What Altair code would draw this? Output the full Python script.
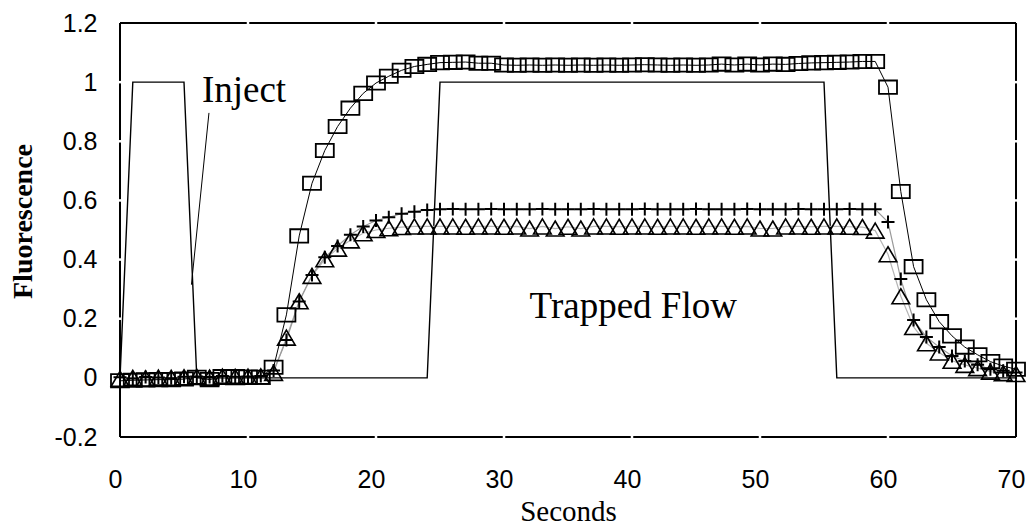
import altair as alt
import pandas as pd

# ---------------- data ----------------
seconds = list(range(0, 71))

squares = [
    -0.010, -0.008, -0.007, -0.006, -0.006, -0.004, 0.002, -0.006, 0.004, 0.004, 0.003, 0.002,
    0.036, 0.213, 0.480, 0.658, 0.769, 0.850, 0.912, 0.962, 0.997, 1.020, 1.040, 1.053, 1.060,
    1.066, 1.067, 1.068, 1.064, 1.064, 1.058, 1.057, 1.058, 1.057, 1.058, 1.057, 1.058, 1.057,
    1.058, 1.057, 1.058, 1.059, 1.058, 1.057, 1.058, 1.057,
    1.058, 1.061, 1.058, 1.061, 1.058, 1.061, 1.060, 1.063, 1.065, 1.066, 1.067, 1.068, 1.070,
    1.070,
    0.983, 0.630, 0.376, 0.264, 0.190, 0.142, 0.104, 0.078, 0.055, 0.040, 0.029,
]

plus = [
    0.002, -0.002, 0.003, 0.001, -0.001, 0.004, 0.005, 0.003, 0.006, 0.004, 0.005, 0.006,
    0.025, 0.128, 0.258, 0.348, 0.408, 0.446, 0.484, 0.512, 0.532, 0.543, 0.555, 0.562, 0.568,
    0.570, 0.571, 0.570, 0.570, 0.571, 0.570, 0.570, 0.570, 0.571, 0.570, 0.570, 0.570,
    0.571, 0.570, 0.570, 0.570, 0.571, 0.570, 0.570, 0.570, 0.571, 0.570, 0.570, 0.570,
    0.571, 0.570, 0.570, 0.570, 0.571, 0.570, 0.570, 0.570, 0.571, 0.570, 0.570,
    0.527, 0.334, 0.196, 0.138, 0.104, 0.074, 0.057, 0.044, 0.029, 0.024, 0.018,
]

triangles = [
    -0.003, 0.000, -0.002, 0.001, 0.000, 0.002, 0.003, 0.001, 0.004, 0.003, 0.004, 0.005,
    0.017, 0.136, 0.259, 0.345, 0.401, 0.437, 0.465, 0.489, 0.500, 0.506, 0.510, 0.512, 0.512,
    0.512, 0.512, 0.511, 0.512, 0.512, 0.511, 0.512, 0.505, 0.512, 0.505, 0.511, 0.505,
    0.512, 0.512, 0.511, 0.512, 0.512, 0.511, 0.512, 0.512, 0.511, 0.512, 0.512, 0.511,
    0.512, 0.505, 0.505, 0.512, 0.512, 0.511, 0.512, 0.512, 0.511, 0.510,
    0.498,
    0.418, 0.276, 0.172, 0.117, 0.086, 0.058, 0.044, 0.033, 0.021, 0.016, 0.013,
]

# valve trace: inject pulse then trapped-flow pulse
trace = [0] + [1] * 5 + [0] * 19 + [1] * 31 + [0] * 15

# pointer from the "Inject" label to the pulse
pointer_t = [6.95, 5.58]
pointer_v = [0.896, 0.315]

labels = ["Inject", "Trapped Flow"]
label_t = [6.4, 32.0]
label_v = [0.933, 0.203]

x_domain = [0, 70]
y_domain = [-0.2, 1.2]
x_ticks = [0, 10, 20, 30, 40, 50, 60, 70]
y_ticks = [-0.2, 0, 0.2, 0.4, 0.6, 0.8, 1, 1.2]

# ---------------- tables ----------------
df_sq = pd.DataFrame({"t": seconds, "v": squares})
df_pl = pd.DataFrame({"t": seconds, "v": plus})
df_tr = pd.DataFrame({"t": seconds, "v": triangles})
df_trace = pd.DataFrame({"t": seconds, "v": trace})
df_ptr = pd.DataFrame({"t": pointer_t, "v": pointer_v})
df_lab = pd.DataFrame({"t": label_t, "v": label_v, "label": labels})

x0, x1 = x_domain
y0, y1 = y_domain
df_frame = pd.DataFrame({
    "t": [x0, x0, x0, x1], "t2": [x1, x1, x0, x1],
    "v": [y0, y1, y0, y0], "v2": [y0, y1, y1, y1],
})
# small white gaps where the tick positions cross the frame
gx = 0.25
gy = 0.01
gap_rows = []
for xt in x_ticks[1:-1]:
    gap_rows.append({"t": xt, "t2": xt, "v": y0 - gy, "v2": y0 + gy})
    gap_rows.append({"t": xt, "t2": xt, "v": y1 - gy, "v2": y1 + gy})
for yt in y_ticks[1:-1]:
    gap_rows.append({"t": x0 - gx, "t2": x0 + gx, "v": yt, "v2": yt})
    gap_rows.append({"t": x1 - gx, "t2": x1 + gx, "v": yt, "v2": yt})
df_gap = pd.DataFrame(gap_rows)

# ---------------- encodings ----------------
xs = alt.Scale(domain=x_domain, nice=False, zero=False)
ys = alt.Scale(domain=y_domain, nice=False, zero=False)

x_axis = alt.Axis(
    values=x_ticks, domain=False, ticks=False, tickSize=0, grid=False,
    labelFont="Liberation Sans", labelFontSize=25, labelColor="black",
    labelPadding=50, labelBaseline="alphabetic", labelOffset=-5, labelFlush=False,
    titleFont="Liberation Serif", titleFontSize=29, titleFontWeight="normal",
    titleColor="black", titleY=83, titleBaseline="alphabetic",
)
y_axis = alt.Axis(
    values=y_ticks, domain=False, ticks=False, tickSize=0, grid=False,
    labelFont="Liberation Sans", labelFontSize=25, labelColor="black",
    labelPadding=23, labelAlign="right", labelBaseline="middle",
    labelExpr="toString(datum.value)",
    titleFont="Liberation Serif", titleFontSize=28, titleFontWeight="bold",
    titleColor="black", titleAngle=270, titleX=-97, titleY=198,
    titleAlign="center", titleBaseline="middle",
)

X = alt.X("t:Q", scale=xs, axis=x_axis, title="Seconds")
Y = alt.Y("v:Q", scale=ys, axis=y_axis, title="Fluorescence")

frame = alt.Chart(df_frame).mark_rule(color="black", strokeWidth=2).encode(
    x=X, x2="t2:Q", y=Y, y2="v2:Q")
gaps = alt.Chart(df_gap).mark_rule(color="white", strokeWidth=2.5).encode(
    x=X, x2="t2:Q", y=Y, y2="v2:Q")

trace_line = alt.Chart(df_trace).mark_line(color="black", strokeWidth=1.4).encode(x=X, y=Y)
pointer = alt.Chart(df_ptr).mark_line(color="black", strokeWidth=1).encode(x=X, y=Y)

line_tr = alt.Chart(df_tr).mark_line(color="#b5b5b5", strokeWidth=1.2).encode(x=X, y=Y)
line_pl = alt.Chart(df_pl).mark_line(color="#9a9a9a", strokeWidth=1.2).encode(x=X, y=Y)
line_sq = alt.Chart(df_sq).mark_line(color="black", strokeWidth=1).encode(x=X, y=Y)

rect_path = "M-1,-0.74L1,-0.74L1,0.74L-1,0.74Z"
plus_path = "M-1,0L1,0M0,-1L0,1"
tri_path = "M0,-0.85L1,0.85L-1,0.85Z"

pts_tr = alt.Chart(df_tr).mark_point(
    shape=tri_path, size=313, filled=False, color="black", strokeWidth=1.6, opacity=1
).encode(x=X, y=Y)
pts_pl = alt.Chart(df_pl).mark_point(
    shape=plus_path, size=169, filled=False, color="black", strokeWidth=2, opacity=1
).encode(x=X, y=Y)
pts_sq = alt.Chart(df_sq).mark_point(
    shape=rect_path, size=324, filled=False, color="black", strokeWidth=1.8, opacity=1
).encode(x=X, y=Y)

texts = alt.Chart(df_lab).mark_text(
    align="left", baseline="alphabetic", font="Liberation Serif", fontSize=37, color="black"
).encode(x=X, y=Y, text="label:N")

chart = alt.layer(
    frame, gaps, trace_line, pointer, line_tr, line_pl, line_sq, pts_tr, pts_pl, pts_sq, texts
).properties(
    width=896, height=414,
    autosize=alt.AutoSizeParams(type="none"),
    padding={"left": 120, "top": 23, "right": 13, "bottom": 88},
    background="white",
).configure_view(stroke=None)

chart.save("out.html", embed_options={"renderer": "svg", "actions": False})
